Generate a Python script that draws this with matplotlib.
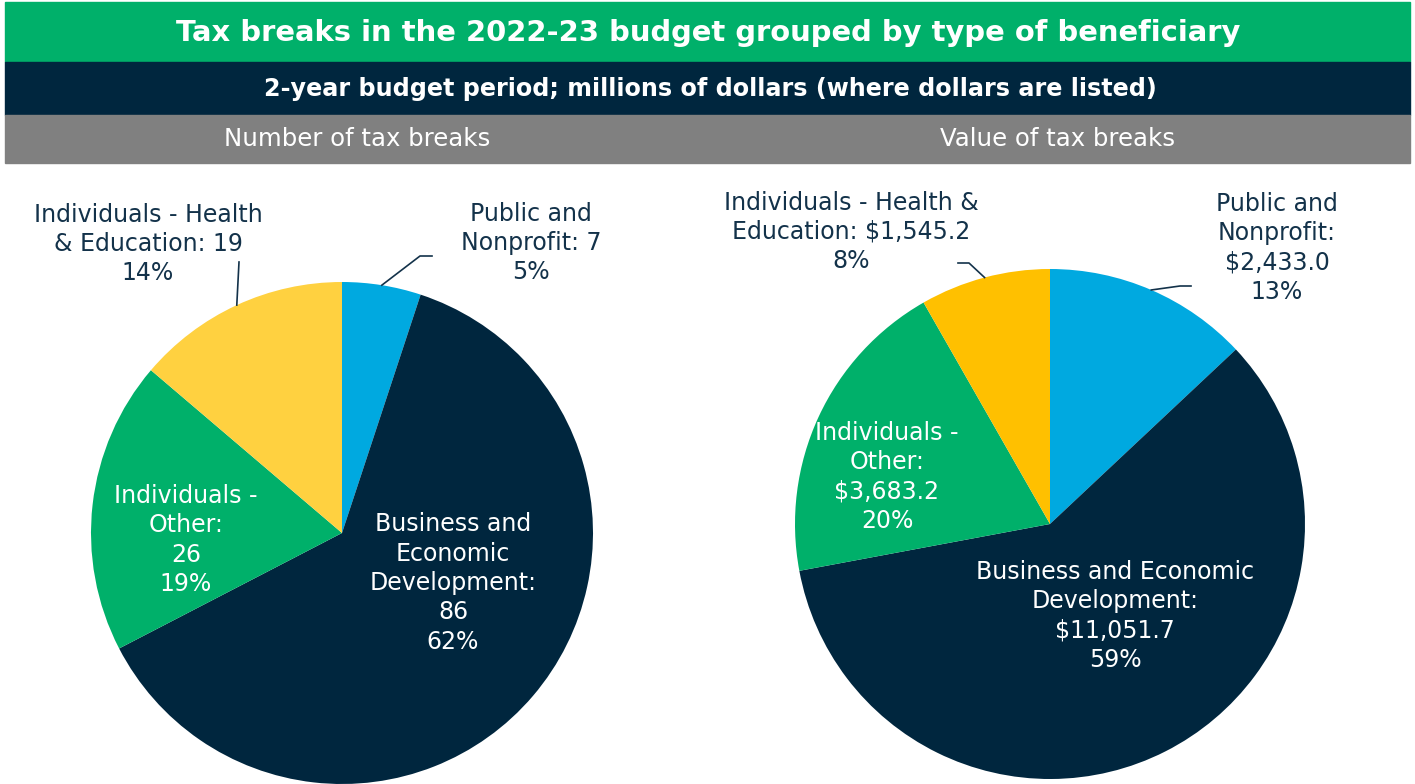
import numpy as np
import matplotlib
matplotlib.use("Agg")
import matplotlib.pyplot as plt
from matplotlib.patches import Rectangle

# data
categories = ["Public and Nonprofit", "Business and Economic Development",
              "Individuals - Other", "Individuals - Health & Education"]
count_values = [7, 86, 26, 19]
dollar_values = [2433.0, 11051.7, 3683.2, 1545.2]

count_labels = ["Public and\nNonprofit: 7\n5%",
                "Business and\nEconomic\nDevelopment:\n86\n62%",
                "Individuals -\nOther:\n26\n19%",
                "Individuals - Health\n& Education: 19\n14%"]
dollar_labels = ["Public and\nNonprofit:\n$2,433.0\n13%",
                 "Business and Economic\nDevelopment:\n$11,051.7\n59%",
                 "Individuals -\nOther:\n$3,683.2\n20%",
                 "Individuals - Health &\nEducation: $1,545.2\n8%"]

title = "Tax breaks in the 2022-23 budget grouped by type of beneficiary"
subtitle = "2-year budget period; millions of dollars (where dollars are listed)"
panel_titles = ["Number of tax breaks", "Value of tax breaks"]

GREEN = "#00B06A"
NAVY = "#00263E"
GRAY = "#808080"
BLUE = "#00A9E0"
TEXT = "#13324A"
left_colors = [BLUE, NAVY, GREEN, "#FFD140"]
right_colors = [BLUE, NAVY, GREEN, "#FFC000"]

FONT = "DejaVu Sans"
W, H = 1415, 784

fig = plt.figure(figsize=(W / 100, H / 100), dpi=100)
fig.patch.set_facecolor("white")


def band(y0, y1, color, x0=5, x1=1410):
    fig.patches.append(Rectangle((x0 / W, 1 - y1 / H), (x1 - x0) / W, (y1 - y0) / H,
                                 transform=fig.transFigure, color=color, zorder=0))


band(2, 62, GREEN)
band(62, 115, NAVY)
band(115, 163, GRAY)
fig.text(708 / W, 1 - 33 / H, title, ha="center", va="center", color="white",
         fontsize=20.9, fontweight="bold", family=FONT)
fig.text(710 / W, 1 - 89 / H, subtitle, ha="center", va="center", color="white",
         fontsize=17.2, fontweight="bold", family=FONT)
fig.text(357 / W, 1 - 139 / H, panel_titles[0], ha="center", va="center", color="white",
         fontsize=17.6, family=FONT)
fig.text(1058 / W, 1 - 139 / H, panel_titles[1], ha="center", va="center", color="white",
         fontsize=17.6, family=FONT)


def draw_pie(cx, cy, r, values, colors, labels, label_px, text_colors, leaders):
    ax = fig.add_axes([(cx - r) / W, 1 - (cy + r) / H, 2 * r / W, 2 * r / H])
    ax.pie(values, colors=colors, startangle=90, counterclock=False, radius=1,
           wedgeprops=dict(linewidth=0))
    ax.set_xlim(-1, 1)
    ax.set_ylim(-1, 1)
    ax.set_aspect("auto")
    ax.axis("off")

    def to_data(px, py):
        return (px - cx) / r, (cy - py) / r

    for lab, (px, py), tc in zip(labels, label_px, text_colors):
        x, y = to_data(px, py)
        ax.text(x, y, lab, ha="center", va="center", color=tc, fontsize=17,
                family=FONT, linespacing=1.28, clip_on=False)

    # leader lines start at wedge middle angle
    total = sum(values)
    start = 90.0
    for v, pts in zip(values, leaders):
        span = v / total * 360
        mid = np.radians(start - span / 2)
        start -= span
        if pts is None:
            continue
        xs = [np.cos(mid)] + [to_data(*p)[0] for p in pts]
        ys = [np.sin(mid)] + [to_data(*p)[1] for p in pts]
        ax.plot(xs, ys, color=TEXT, lw=1.2, clip_on=False)
    return ax


draw_pie(342, 533, 251, count_values, left_colors, count_labels,
         [(531, 243), (453, 583), (186, 540), (148, 244)],
         [TEXT, "white", "white", TEXT],
         [[(420, 256), (432, 256)], None, None, [(239, 262)]])

draw_pie(1050, 524, 255, dollar_values, right_colors, dollar_labels,
         [(1277, 248), (1115, 616), (887, 477), (851, 232)],
         [TEXT, "white", "white", TEXT],
         [[(1180, 286), (1191, 286)], None, None, [(969, 263), (958, 263)]])

fig.savefig("out.png", dpi=100)
